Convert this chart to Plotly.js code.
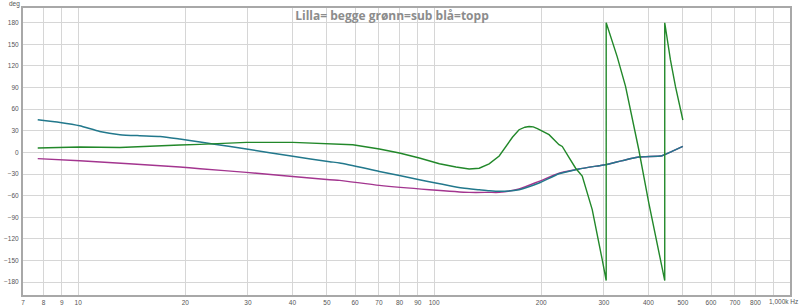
<!DOCTYPE html>
<html>
<head>
<meta charset="utf-8">
<script src="https://cdn.plot.ly/plotly-3.0.1.min.js"></script>
<style>html,body{margin:0;padding:0;background:#fff;}#chart{width:800px;height:308px;}</style>
</head>
<body>
<div id="chart"></div>
<script>
// Blue = topp
const freqTopp = [7.7, 8.9, 10.1, 11.5, 13.1, 14.9, 17.0, 19.3, 22.0, 23.9, 29.7, 40.1, 50.9, 54.3, 70.2, 90.9, 120.2, 133.9, 142.8, 152.4, 173.3, 197.2, 224.4, 249.9, 255.3, 290.5, 303.4, 376, 437, 466, 500];
const phaseTopp = [45.4, 41.6, 37, 29, 24.6, 23.2, 22.2, 18.6, 14.4, 11.7, 4.7, -5.5, -12.9, -14.7, -26.4, -37.9, -49.4, -51.8, -53.2, -54.1, -51.8, -42.5, -29.6, -24, -23, -18.5, -17, -6.4, -4.6, 1.4, 8.3];

// Green = sub
const freqSub = [7.7, 10.1, 13.1, 17.0, 19.3, 22.0, 23.9, 29.7, 40.1, 50.9, 54.3, 59.1, 70.2, 79.9, 90.9, 103.5, 115.2, 125.5, 133.9, 142.8, 152.4, 159.1, 166, 173.3, 180, 184.9, 190, 195.1, 210.4, 224.4, 229.2, 240, 249.9, 260.8, 272.3, 278.2, 296.8, 304.5, 304.5, 326.9, 345.1, 356.4, 376, 401.1, 427.8, 444.7, 444.7, 461.3, 476.6, 500];
const phaseSub = [6.1, 7.5, 6.9, 9.7, 10.3, 11.1, 11.7, 13.9, 13.9, 11.6, 10.7, 10.7, 4.7, -0.9, -7.8, -15.7, -20.3, -23, -22, -16, -5, 8.3, 21, 31.5, 35, 36, 35.5, 33, 24.6, 10.7, 8.3, -8, -22, -33, -62, -79.5, -149, -178, 180, 133, 91.6, 59.3, 3.7, -70, -135, -178, 180, 128.7, 91.6, 45];

// Purple = begge
const freqBegge = [7.7, 10.1, 19.3, 22.0, 29.7, 50.9, 54.3, 70.2, 97.0, 125.5, 142.8, 152.4, 173.3, 197.2, 224.4, 249.9, 255.3, 290.5, 303.4, 376, 437, 466, 500];
const phaseBegge = [-8.7, -11.5, -20.3, -22.6, -27.7, -37.9, -38.8, -45.8, -51.8, -55.5, -55.5, -55.5, -50.8, -40.2, -29, -24, -23, -18.5, -17, -6.4, -4.6, 1.4, 8.3];

const xTickVals = [7, 8, 9, 10, 20, 30, 40, 50, 60, 70, 80, 90, 100, 200, 300, 400, 500, 600, 700, 800, 900, 1000];
const xTickText = ['7', '8', '9', '10', '20', '30', '40', '50', '60', '70', '80', '90', '100', '200', '300', '400', '500', '600', '700', '800', '', ''];
const xEndLabel = '1,000k Hz';
const yTickVals = [180, 150, 120, 90, 60, 30, 0, -30, -60, -90, -120, -150, -180];

const traces = [
  {x: freqBegge, y: phaseBegge, type: 'scatter', mode: 'lines', name: 'begge',
   line: {color: '#a3358f', width: 1.4, shape: 'spline', smoothing: 0.6}},
  {x: freqTopp, y: phaseTopp, type: 'scatter', mode: 'lines', name: 'topp',
   line: {color: '#22788c', width: 1.5, shape: 'spline', smoothing: 0.6}},
  {x: freqSub, y: phaseSub, type: 'scatter', mode: 'lines', name: 'sub',
   line: {color: '#22882a', width: 1.4}}
];

const layout = {
  width: 800, height: 308,
  margin: {l: 23, r: 10, t: 8, b: 13},
  paper_bgcolor: '#ffffff', plot_bgcolor: '#ffffff',
  showlegend: false,
  font: {family: 'Liberation Sans, Arial, sans-serif', size: 6.5, color: '#555555'},
  title: {text: '<b>Lilla= begge grønn=sub blå=topp</b>', x: 0.49, xanchor: 'center', y: 0.948, yanchor: 'middle',
          font: {family: 'Open Sans, sans-serif', size: 12, color: '#8c8c8c'}},
  xaxis: {type: 'log', range: [Math.log10(7), 3], tickmode: 'array', tickvals: xTickVals, ticktext: xTickText,
          showgrid: true, gridcolor: '#d6d6d6', gridwidth: 1, zeroline: false,
          showline: true, linecolor: '#a8a8a8', linewidth: 2, mirror: true, ticks: '', ticklabelstandoff: 0,
          tickfont: {size: 6.5, color: '#555555'}},
  yaxis: {range: [-198, 200.5], tickmode: 'array', tickvals: yTickVals,
          showgrid: true, gridcolor: '#d6d6d6', gridwidth: 1, zeroline: false,
          showline: true, linecolor: '#a8a8a8', linewidth: 2, mirror: true, ticks: '', ticklabelstandoff: 1,
          tickfont: {size: 6.5, color: '#555555'}},
  annotations: [
    {text: 'deg', xref: 'paper', yref: 'paper', x: -0.002, y: 1.0, xanchor: 'right', yanchor: 'bottom', yshift: -1,
     borderpad: 0, showarrow: false, font: {size: 6.5, color: '#555555'}},
    {text: xEndLabel, xref: 'paper', yref: 'paper', x: 1, y: 0, xanchor: 'right', yanchor: 'top', xshift: 9, yshift: -2,
     borderpad: 0, showarrow: false, font: {size: 6.5, color: '#555555'}}
  ]
};

Plotly.newPlot('chart', traces, layout, {displayModeBar: false, staticPlot: true});
</script>
</body>
</html>
